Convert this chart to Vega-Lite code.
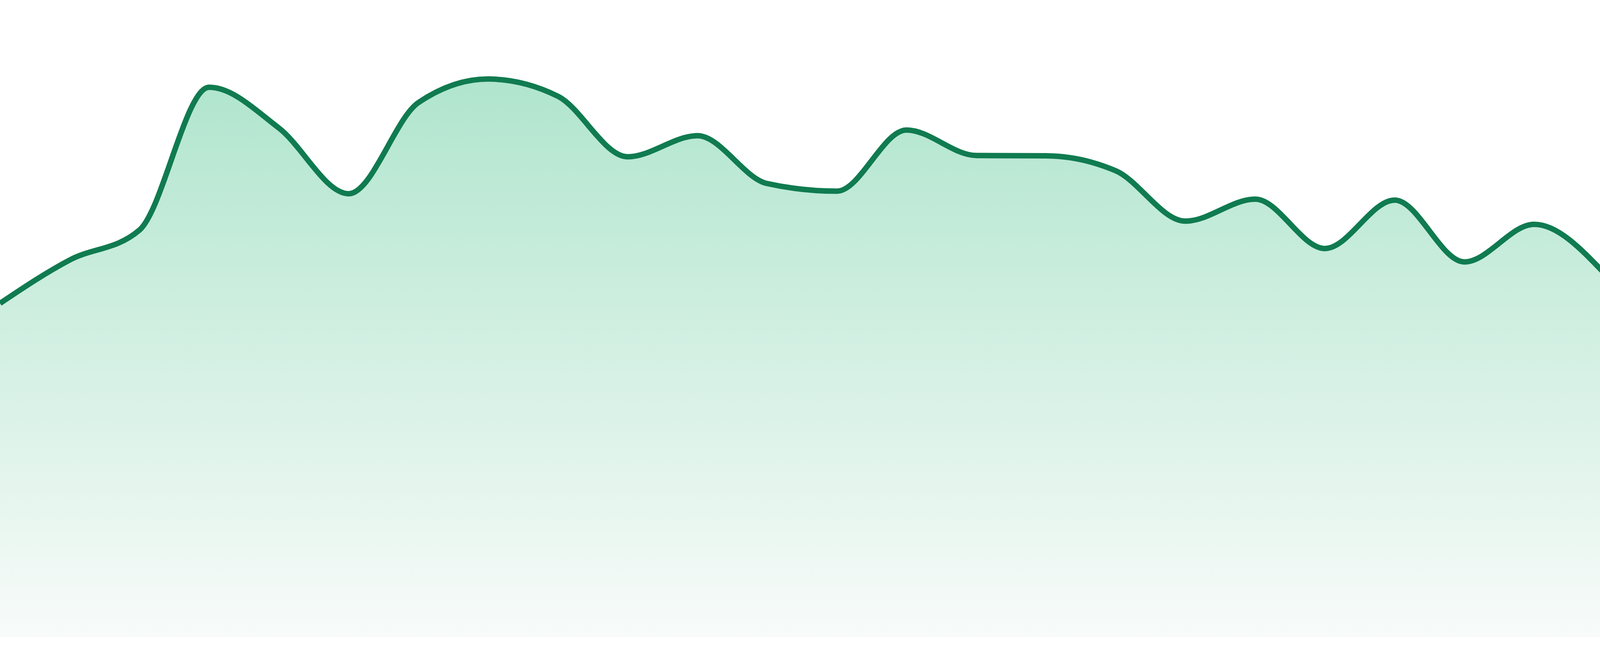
{
  "$schema": "https://vega.github.io/schema/vega-lite/v6.json",
  "width": 4106,
  "height": 1632,
  "autosize": {"type": "none"},
  "padding": 0,
  "background": "white",
  "config": {"view": {"stroke": null}},
  "data": {
    "values": [
      {"i": 0, "v": 52.4},
      {"i": 1, "v": 59.2},
      {"i": 2, "v": 63.9},
      {"i": 3, "v": 86.3},
      {"i": 4, "v": 79.9},
      {"i": 5, "v": 69.6},
      {"i": 6, "v": 83.9},
      {"i": 7, "v": 87.6},
      {"i": 8, "v": 84.9},
      {"i": 9, "v": 75.4},
      {"i": 10, "v": 78.7},
      {"i": 11, "v": 71.2},
      {"i": 12, "v": 70.0},
      {"i": 13, "v": 79.6},
      {"i": 14, "v": 75.6},
      {"i": 15, "v": 75.55},
      {"i": 16, "v": 73.2},
      {"i": 17, "v": 65.3},
      {"i": 18, "v": 68.75},
      {"i": 19, "v": 61.0},
      {"i": 20, "v": 68.6},
      {"i": 21, "v": 58.9},
      {"i": 22, "v": 64.8},
      {"i": 23, "v": 57.2}
    ]
  },
  "encoding": {
    "x": {"field": "i", "type": "quantitative", "scale": {"domain": [0, 23], "nice": false, "zero": false}, "axis": null},
    "y": {"field": "v", "type": "quantitative", "scale": {"domain": [0, 100], "nice": false}, "axis": null}
  },
  "layer": [
    {
      "mark": {
        "type": "area",
        "interpolate": "monotone",
        "color": {
          "gradient": "linear",
          "x1": 0, "y1": 0, "x2": 0, "y2": 1,
          "stops": [
            {"offset": 0, "color": "#b0e5cd"},
            {"offset": 1, "color": "#f8fbfa"}
          ]
        }
      }
    },
    {
      "mark": {"type": "line", "interpolate": "monotone", "color": "#107b50", "strokeWidth": 14}
    }
  ]
}
